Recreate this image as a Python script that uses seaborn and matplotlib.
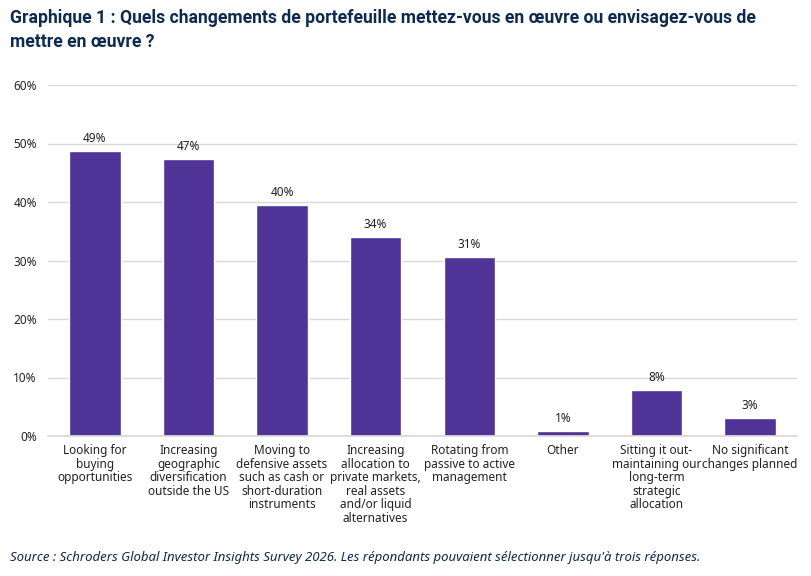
import matplotlib
matplotlib.use("Agg")
import matplotlib.pyplot as plt
import seaborn as sns
import pandas as pd

# données
categories = [
    "Looking for\nbuying\nopportunities",
    "Increasing\ngeographic\ndiversification\noutside the US",
    "Moving to\ndefensive assets\nsuch as cash or\nshort-duration\ninstruments",
    "Increasing\nallocation to\nprivate markets,\nreal assets\nand/or liquid\nalternatives",
    "Rotating from\npassive to active\nmanagement",
    "Other",
    "Sitting it out-\nmaintaining our\nlong-term\nstrategic\nallocation",
    "No significant\nchanges planned",
]
values = [48.7, 47.3, 39.5, 34.0, 30.6, 0.9, 7.9, 3.1]
labels = ["49%", "47%", "40%", "34%", "31%", "1%", "8%", "3%"]

df = pd.DataFrame({"cat": categories, "val": values})

sns.set_theme(style="white")
plt.rcParams["font.family"] = ["Noto Sans", "DejaVu Sans"]

navy = "#0d2b4e"
purple = "#4f3396"

fig = plt.figure(figsize=(8.12, 5.76), dpi=100)
ax = fig.add_axes([48 / 812, 1 - 436 / 576, 749 / 812, 351 / 576])

sns.barplot(data=df, x="cat", y="val", color=purple, width=0.55, saturation=1, ax=ax)

for i, (v, lab) in enumerate(zip(values, labels)):
    ax.text(i, v + 1.0, lab, ha="center", va="bottom", fontsize=8.5, color="#222222")

ax.set_ylim(0, 60)
ax.set_xlim(-0.5, len(values) - 0.5)
ax.set_yticks(range(0, 61, 10))
ax.set_yticklabels([f"{t}%" for t in range(0, 61, 10)], fontsize=8.5, color="#222222")
ax.set_xticks(range(len(categories)))
ax.set_xticklabels(categories, fontsize=8.5, color="#222222", linespacing=1.05, va="top")
ax.tick_params(axis="x", length=0, pad=6)
ax.tick_params(axis="y", length=0, pad=8)
ax.yaxis.grid(True, color="#d9d9d9", linewidth=1)
ax.set_axisbelow(True)
for s in ["top", "right", "left"]:
    ax.spines[s].set_visible(False)
ax.spines["bottom"].set_color("#d9d9d9")
ax.set_xlabel("")
ax.set_ylabel("")

fig.text(10 / 812, 1 - 9 / 576,
         "Graphique 1 : Quels changements de portefeuille mettez-vous en œuvre ou envisagez-vous de\nmettre en œuvre ?",
         ha="left", va="top", fontsize=12.7, fontweight="bold", color=navy, linespacing=1.45,
         family=["Roboto", "DejaVu Sans"])
fig.text(10 / 812, 1 - 558 / 576,
         "Source : Schroders Global Investor Insights Survey 2026. Les répondants pouvaient sélectionner jusqu'à trois réponses.",
         ha="left", va="center", fontsize=9.5, style="italic", color=navy)

fig.savefig("out.png", dpi=100)
